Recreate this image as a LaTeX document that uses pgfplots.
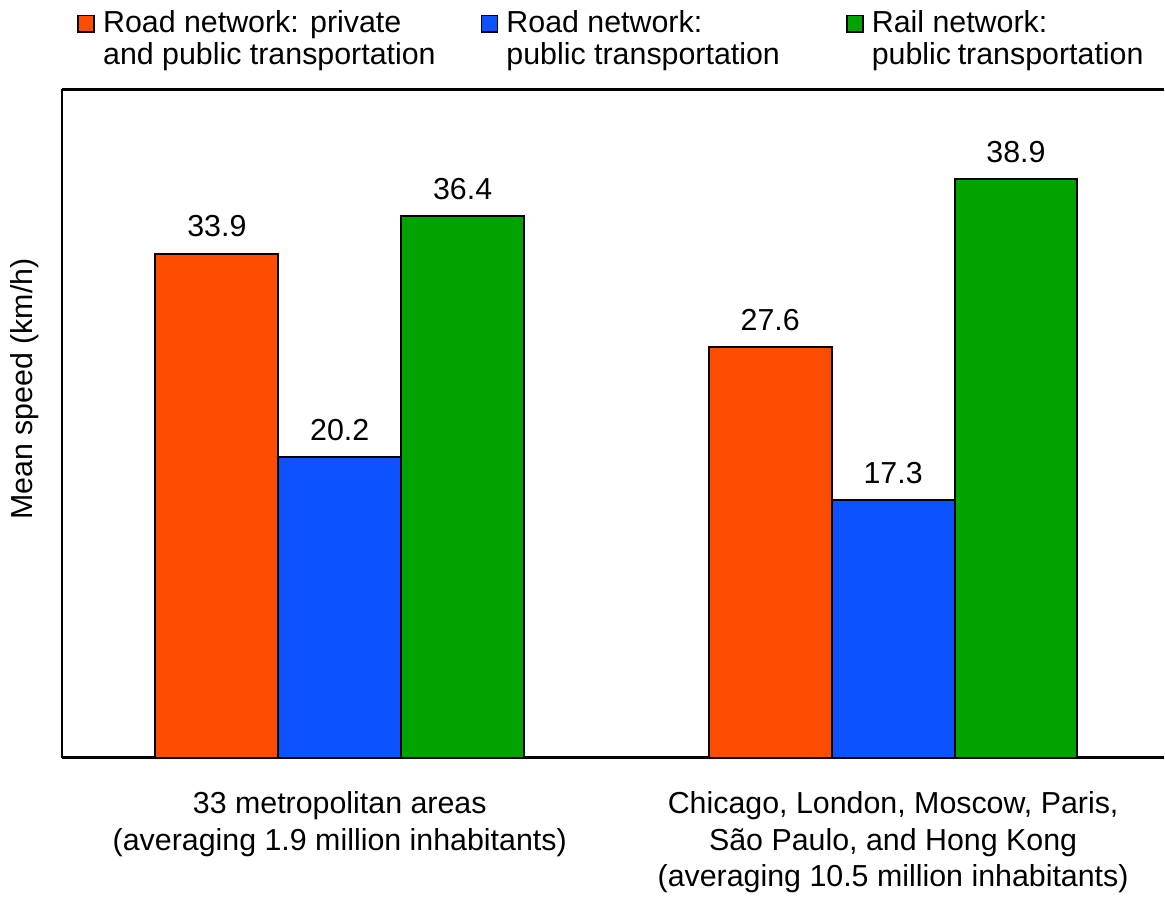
\documentclass[border=0pt]{standalone}
\usepackage{fontspec}
\setmainfont{Liberation Sans}
\usepackage{pgfplots}
\pgfplotsset{compat=1.18}
\definecolor{roadall}{RGB}{255,77,0}
\definecolor{roadpub}{RGB}{13,82,255}
\definecolor{railpub}{RGB}{0,163,0}

\pgfplotsset{
  sqleg/.style={legend image code/.code={
    \draw[##1,draw=black,line width=0.9pt] (0pt,0pt) rectangle (8pt,8.3pt);}},
}
% legend text: small gap after the square, first line on the square's baseline
\newcommand{\legtext}[2]{\hspace*{3pt}\parbox[t]{#1}{#2}}

\begin{document}
\begin{tikzpicture}[font=\fontsize{15.2}{18.5}\selectfont]
\begin{axis}[
    scale only axis,
    width=551.5pt, height=334.5pt,
    xmin=-0.502, xmax=1.489,
    ymin=0, ymax=44.93,
    axis x line=box, axis y line=left,
    axis line style={-, line width=1.3pt},
    ytick=\empty,
    xtick={0,1},
    xticklabels={{33 metropolitan areas\\(averaging 1.9 million inhabitants)},
                 {Chicago, London, Moscow, Paris,\\São Paulo, and Hong Kong\\(averaging 10.5 million inhabitants)}},
    xticklabel style={align=center, inner sep=2pt, yshift=-14.5pt},
    major tick length=0pt,
    ylabel={Mean speed (km/h)},
    every axis y label/.style={at={(axis description cs:-0.0263,0.5516)}, rotate=90,
        anchor=base, inner sep=5.5pt},
    ybar=0pt, bar width=0.222,
    nodes near coords,
    nodes near coords style={/pgf/number format/fixed, /pgf/number format/fixed zerofill,
        /pgf/number format/precision=1, /pgf/number format/assume math mode=true,
        yshift=4.3pt, text=black},
    legend columns=3,
    legend style={draw=none, fill=none, inner xsep=0pt, inner ysep=4.1pt, column sep=0pt,
        at={(0.0136,1.1345)}, anchor=north west,
        font=\fontsize{15.2}{16}\selectfont,
        nodes={inner sep=1pt, anchor=base west}},
]
\addplot[sqleg, fill=roadall, draw=black, line width=1pt] coordinates {(0,33.9) (1,27.6)};
\addplot[sqleg, fill=roadpub, draw=black, line width=1pt] coordinates {(0,20.2) (1,17.3)};
\addplot[sqleg, fill=railpub, draw=black, line width=1pt] coordinates {(0,36.4) (1,38.9)};
\legend{{\legtext{188pt}{Road network: private\\and public transportation}},
        {\legtext{169pt}{Road network:\\public transportation}},
        {\legtext{136pt}{Rail network:\\public transportation}}}
\end{axis}
\end{tikzpicture}
\end{document}
